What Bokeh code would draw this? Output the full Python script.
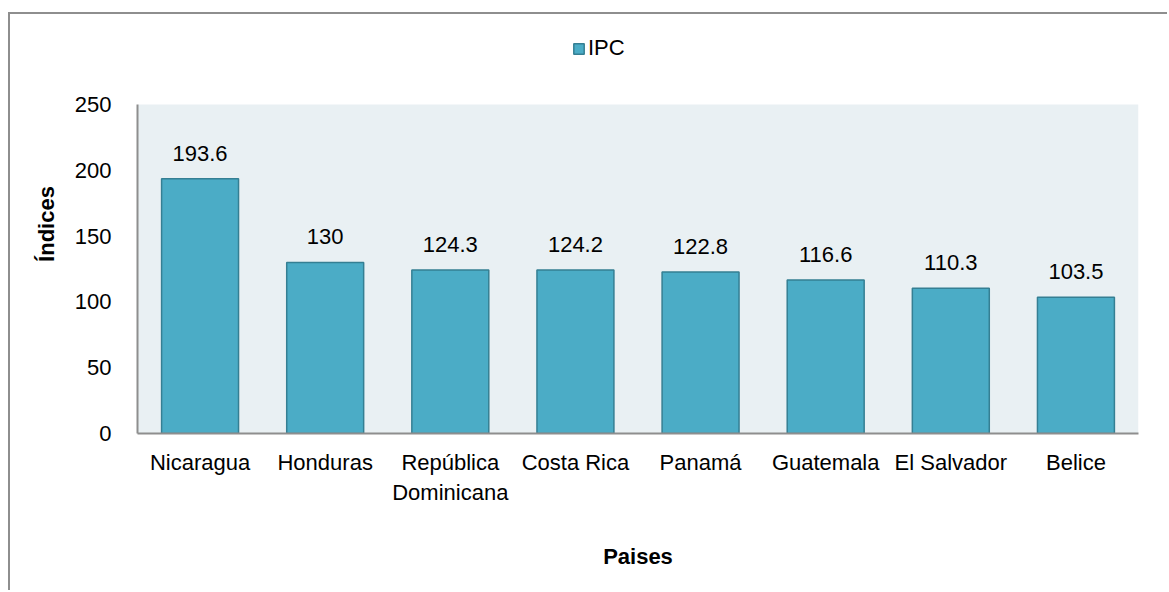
from bokeh.plotting import figure
from bokeh.models import ColumnDataSource, Legend, LegendItem, BoxAnnotation, Range1d
from bokeh.core.properties import value
from bokeh.embed import file_html
from bokeh.resources import INLINE

paises = ["Nicaragua", "Honduras", "República\nDominicana", "Costa Rica",
          "Panamá", "Guatemala", "El Salvador", "Belice"]
ipc = [193.6, 130, 124.3, 124.2, 122.8, 116.6, 110.3, 103.5]
etiquetas = ["193.6", "130", "124.3", "124.2", "122.8", "116.6", "110.3", "103.5"]
y_ticks = [0, 50, 100, 150, 200, 250]
y_max = 250

FONT = "'Liberation Sans Narrow', 'Arial Narrow', 'Liberation Sans', sans-serif"
FS = "22px"
GRAY = "#8E8E8E"

# frame spans from the chart border down to the x axis; the plot area is 0..250
FRAME_TOP, FRAME_H, AREA_H = 14, 419, 329
y_top = y_max * FRAME_H / AREA_H

src = ColumnDataSource(dict(x=paises, y=ipc, lab=etiquetas))

p = figure(x_range=paises, y_range=Range1d(0, y_top), width=1167, height=590,
           output_backend="svg", toolbar_location=None,
           min_border_left=137, min_border_right=29, min_border_top=FRAME_TOP,
           min_border_bottom=590 - FRAME_TOP - FRAME_H)
p.margin = (0, 0, 0, 0)
p.styles = {
    "background": (f"linear-gradient({GRAY},{GRAY}) 8px 12px / 2px 100% no-repeat, "
                   f"linear-gradient({GRAY},{GRAY}) 8px 12px / 100% 2px no-repeat, white"),
}
p.x_range.range_padding = 0
p.border_fill_color = None
p.background_fill_color = None
p.outline_line_color = None
p.xgrid.grid_line_color = None
p.ygrid.grid_line_color = None

area = BoxAnnotation(bottom=0, top=y_max, fill_color="#E9F0F3", fill_alpha=1,
                     line_color=None, level="underlay")
p.add_layout(area)

r = p.vbar(x="x", top="y", width=0.615, source=src, fill_color="#4BACC6",
           line_color="#357F93", line_width=1.5)

p.text(x="x", y="y", text="lab", source=src, text_align="center",
       text_baseline="bottom", y_offset=-18, text_font=value(FONT),
       text_font_size=FS, text_color="#000000")

for ax in (p.xaxis, p.yaxis):
    ax.axis_line_color = GRAY
    ax.axis_line_width = 2
    ax.major_tick_line_color = None
    ax.minor_tick_line_color = None
    ax.major_label_text_font = FONT
    ax.major_label_text_font_size = FS
    ax.major_label_text_color = "#000000"
    ax.axis_label_text_font = FONT
    ax.axis_label_text_font_size = FS
    ax.axis_label_text_font_style = "bold"
    ax.axis_label_text_color = "#000000"

p.yaxis.ticker = y_ticks
p.yaxis.bounds = (0, y_max)
p.yaxis.major_label_standoff = 20
p.yaxis.axis_label = "Índices"
p.yaxis.axis_label_standoff = 13
p.xaxis.major_label_standoff = 10
p.xaxis.axis_label = "Paises"
p.xaxis.axis_label_standoff = 36

leg = Legend(items=[LegendItem(label="IPC", renderers=[r])],
             location=(435, 372), orientation="horizontal",
             padding=0, margin=0, spacing=0, glyph_width=13, glyph_height=13,
             label_standoff=3, label_text_font=FONT, label_text_font_size=FS,
             label_text_color="#000000",
             border_line_color=None, background_fill_alpha=0)
p.add_layout(leg, "center")

open("out.html", "w").write(file_html(p, INLINE))
